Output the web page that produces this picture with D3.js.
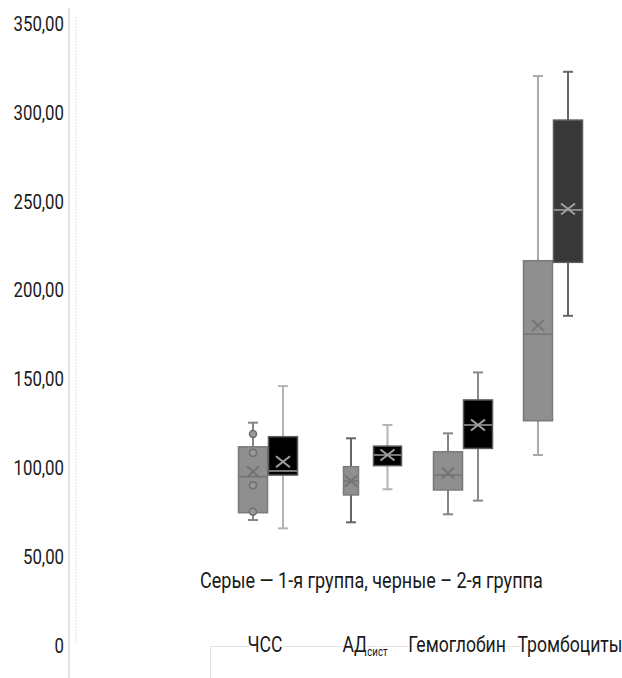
<!DOCTYPE html>
<html lang="ru">

<head>
    <meta charset="utf-8">
    <style>
        body {
            margin: 0;
            background: #fff;
            font-family: Roboto, 'Noto Sans', sans-serif;
        }
    </style>
</head>

<body>
    <div class='chart'></div>
    <script src="https://d3js.org/d3.v7.min.js"></script>
    <script>
        // категории и группы
        const categories = ['ЧСС', 'АД', 'Гемоглобин', 'Тромбоциты'];
        const groups = ['1-я группа', '2-я группа'];
        const yTicks = [0, 50, 100, 150, 200, 250, 300, 350];

        // значения: [min, q1, median, q3, max, mean] по категориям
        const group1 = [
            [70.4, 74.5, 94.8, 111.6, 125.2, 97.6],
            [69.1, 84.5, 92.3, 100.4, 116.4, 92.3],
            [73.6, 87.3, 95.7, 108.8, 119.2, 96.8],
            [107.0, 126.3, 175.0, 216.4, 320.4, 180.0]
        ];
        const group2 = [
            [65.7, 95.7, 98.0, 117.3, 145.8, 103.2],
            [87.7, 101.0, 107.0, 112.0, 123.9, 107.0],
            [81.3, 110.7, 123.9, 138.0, 153.5, 123.9],
            [185.4, 215.5, 245.0, 295.6, 322.8, 245.5]
        ];
        // отдельные точки (ЧСС, 1-я группа)
        const points1 = [118.8, 108.3, 90.0, 75.0];

        const width = 622,
            height = 678,
            narrow = 0.8; // сжатие шрифта по горизонтали

        const svg = d3.select('.chart').append('svg')
            .attr('width', width)
            .attr('height', height);

        const y = d3.scaleLinear().domain([0, 350]).range([645, 23.5]);
        const x = d3.scaleOrdinal().domain(categories).range([268, 372, 463, 553]);
        const xg = d3.scaleBand().domain(groups).range([-30, 30]);
        const bw = xg.bandwidth();

        // оси-линии
        svg.append('line')
            .attr('x1', 69).attr('x2', 69).attr('y1', 8).attr('y2', height)
            .attr('stroke', '#d4d4d4').attr('stroke-width', 1.2);
        svg.append('line')
            .attr('x1', 76).attr('x2', 76).attr('y1', 17).attr('y2', 643)
            .attr('stroke', '#f0f0f0').attr('stroke-width', 2)
            .attr('stroke-dasharray', '2,1');
        svg.append('path')
            .attr('d', `M210.5,${height}V646.5H${width}`)
            .attr('fill', 'none').attr('stroke', '#e2e2e2');

        // текст с узким начертанием
        function label(sel, px, py, size, k) {
            return sel.append('text')
                .attr('transform', `translate(${px},${py}) scale(${k || narrow},1)`)
                .style('font-size', size + 'px')
                .style('fill', '#1a1a1a');
        }

        // подписи оси Y
        const fmt = d => d === 0 ? '0' : d3.format('.2f')(d).replace('.', ',');
        yTicks.forEach(t => {
            label(svg, 64, y(t), 21)
                .attr('dy', '0.36em')
                .attr('text-anchor', 'end')
                .text(fmt(t));
        });

        // стили групп
        const fills = ['#8f8f8f', '#000'];
        const strokes = ['#7a7a7a', '#5a5a5a'];
        const whisk = ['#858585', '#b4b4b4'];
        const inner = ['#747474', '#a0a0a0'];

        const boxData = [];
        categories.forEach((c, i) => {
            [group1, group2].forEach((g, j) => {
                const v = g[i];
                // у АД коробки разнесены, серая уже
                let x0 = x(c) + xg(groups[j]), w = bw;
                if (c === 'АД') { x0 = j ? x(c) + 1 : x(c) - 29; w = j ? 29 : 16; }
                boxData.push({ cat: c, j: j, x0: x0, w: w, min: v[0], q1: v[1], med: v[2], q3: v[3], max: v[4], mean: v[5] });
            });
        });

        const wColor = d => d.cat === 'Тромбоциты' ? (d.j ? '#666' : '#aaa') :
            d.cat === 'Гемоглобин' && d.j ? '#8a8a8a' :
                d.cat === 'АД' && !d.j ? '#666' : whisk[d.j];

        const box = svg.selectAll('.box')
            .data(boxData)
            .enter()
            .append('g')
            .attr('class', 'box')
            .attr('transform', d => `translate(${d.x0},0)`);

        // усы
        box.append('line')
            .attr('x1', d => d.w / 2).attr('x2', d => d.w / 2)
            .attr('y1', d => y(d.max)).attr('y2', d => y(d.min))
            .attr('stroke', wColor)
            .attr('stroke-width', 2);
        box.each(function (d) {
            d3.select(this).selectAll('.cap')
                .data([d.max, d.min])
                .enter()
                .append('line')
                .attr('x1', d.w / 2 - 5).attr('x2', d.w / 2 + 5)
                .attr('y1', v => y(v)).attr('y2', v => y(v))
                .attr('stroke', wColor(d))
                .attr('stroke-width', 2);
        });

        // коробки
        box.append('rect')
            .attr('x', 0.5)
            .attr('width', d => d.w - 1)
            .attr('y', d => y(d.q3))
            .attr('height', d => y(d.q1) - y(d.q3))
            .attr('fill', d => d.cat === 'Тромбоциты' && d.j === 1 ? '#383838' : fills[d.j])
            .attr('stroke', d => strokes[d.j])
            .attr('stroke-width', 1.5);

        // медиана
        box.append('line')
            .attr('x1', 1).attr('x2', d => d.w - 1)
            .attr('y1', d => y(d.med)).attr('y2', d => y(d.med))
            .attr('stroke', d => inner[d.j])
            .attr('stroke-width', 1.5);

        // среднее (крестик)
        box.append('path')
            .attr('d', d => {
                const cx = d.w / 2, cy = y(d.mean), s = d.j ? 7 : 6, t = 5.5;
                return `M${cx - s},${cy - t}L${cx + s},${cy + t}M${cx - s},${cy + t}L${cx + s},${cy - t}`;
            })
            .attr('stroke', d => inner[d.j])
            .attr('stroke-width', 2)
            .attr('fill', 'none');

        // точки
        svg.selectAll('.pt')
            .data(points1)
            .enter()
            .append('circle')
            .attr('class', 'pt')
            .attr('cx', x('ЧСС') + xg(groups[0]) + bw / 2)
            .attr('cy', d => y(d))
            .attr('r', 3.5)
            .attr('fill', '#9a9a9a')
            .attr('stroke', '#6e6e6e')
            .attr('stroke-width', 1.5);

        // легенда
        label(svg, 200, 588, 22, 0.82)
            .text('Серые — 1-я группа, черные – 2-я группа');

        // подписи категорий
        const labelX = [265, 365, 457, 570];
        categories.forEach((c, i) => {
            const t = label(svg, labelX[i], 652, 22)
                .attr('text-anchor', 'middle')
                .style('paint-order', 'stroke')
                .style('stroke', '#fff')
                .style('stroke-width', 4)
                .text(c);
            if (c === 'АД') {
                t.append('tspan')
                    .attr('dy', 4)
                    .style('font-size', '12px')
                    .text('сист');
            }
        });
    </script>
</body>

</html>
